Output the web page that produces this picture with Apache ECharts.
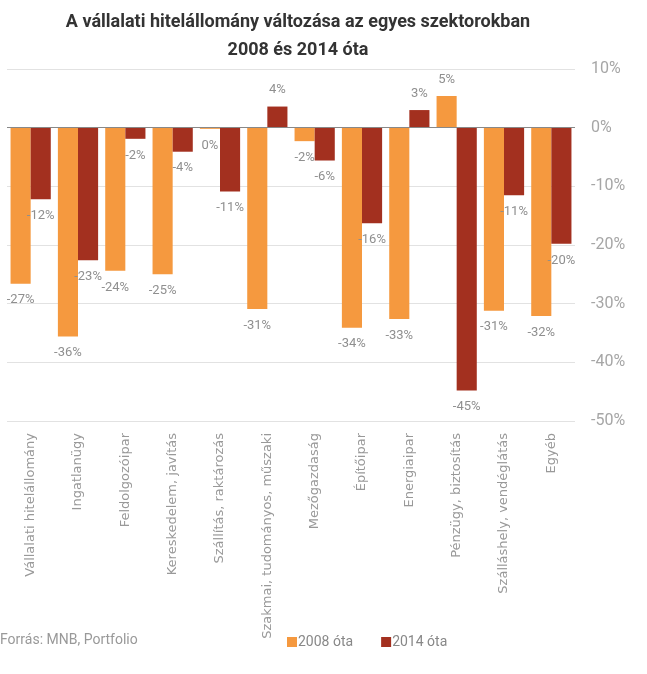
<!DOCTYPE html>
<html>
<head>
<meta charset="utf-8">
<script src="https://cdn.jsdelivr.net/npm/echarts@6/dist/echarts.min.js"></script>
<style>html,body{margin:0;padding:0;background:#fff}#c{width:647px;height:674px}</style>
</head>
<body>
<div id="c"></div>
<script>
const categories = ["Vállalati hitelállomány","Ingatlanügy","Feldolgozóipar","Kereskedelem, javítás","Szállítás, raktározás","Szakmai, tudományos, műszaki","Mezőgazdaság","Építőipar","Energiaipar","Pénzügy, biztosítás","Szálláshely, vendéglátás","Egyéb"];
const since2008 = [-26.6,-35.6,-24.4,-25.0,-0.2,-30.9,-2.3,-34.1,-32.6,5.4,-31.2,-32.1];
const since2014 = [-12.2,-22.6,-1.9,-4.1,-10.9,3.6,-5.6,-16.3,3.0,-44.8,-11.5,-19.8];
const yTicks = {min:-50,max:10,interval:10};
const seriesNames = ["2008 óta","2014 óta"];

const labelStyle = {color:'#8f8f8f',fontSize:13,fontFamily:'Roboto',distance:10};
function toData(arr){
  return arr.map(v => ({value:v,label:{position: v < 0 ? 'bottom' : 'top'}}));
}
const chart = echarts.init(document.getElementById('c'));
chart.setOption({
  animation:false,
  title:{
    text:'A vállalati hitelállomány változása az egyes szektorokban\n2008 és 2014 óta',
    left:293, textAlign:'center', top:3,
    textStyle:{fontFamily:'Roboto',fontWeight:'bold',fontSize:18,color:'#333',lineHeight:28}
  },
  legend:{
    left:282, top:630, itemWidth:10, itemHeight:10, itemGap:28, icon:'rect',
    textStyle:{color:'#888',fontSize:14,fontFamily:'Roboto',padding:[0,0,0,-4]},
    data:seriesNames
  },
  graphic:[{type:'text',left:0,top:633,style:{text:'Forrás: MNB, Portfolio',fill:'#999',font:'14px Roboto'}}],
  grid:{left:7,right:72,top:69,bottom:253},
  xAxis:{
    type:'category',data:categories,
    axisLine:{show:false},axisTick:{show:false},
    axisLabel:{rotate:90,interval:0,color:'#999',fontSize:13,fontFamily:'DejaVu Sans',margin:12}
  },
  yAxis:{
    type:'value',position:'right',min:yTicks.min,max:yTicks.max,interval:yTicks.interval,
    axisLine:{show:false},axisTick:{show:false},
    axisLabel:{formatter:'{value}%',color:'#a6a6a6',fontSize:16,fontFamily:'Roboto',margin:16},
    splitLine:{lineStyle:{color:'#e2e2e2'}}
  },
  series:[
    {name:seriesNames[0],type:'bar',data:toData(since2008),itemStyle:{color:'#F5993F'},
     barGap:'0%',barCategoryGap:'15%',
     label:Object.assign({show:true,formatter:p=>Math.round(p.value)+'%'},labelStyle),
     markLine:{silent:true,symbol:'none',label:{show:false},lineStyle:{color:'#888',width:1,type:'solid'},data:[{yAxis:0}]}},
    {name:seriesNames[1],type:'bar',data:toData(since2014),itemStyle:{color:'#A3301F'},
     barGap:'0%',barCategoryGap:'15%',
     label:Object.assign({show:true,formatter:p=>Math.round(p.value)+'%'},labelStyle)}
  ]
});
</script>
</body>
</html>
